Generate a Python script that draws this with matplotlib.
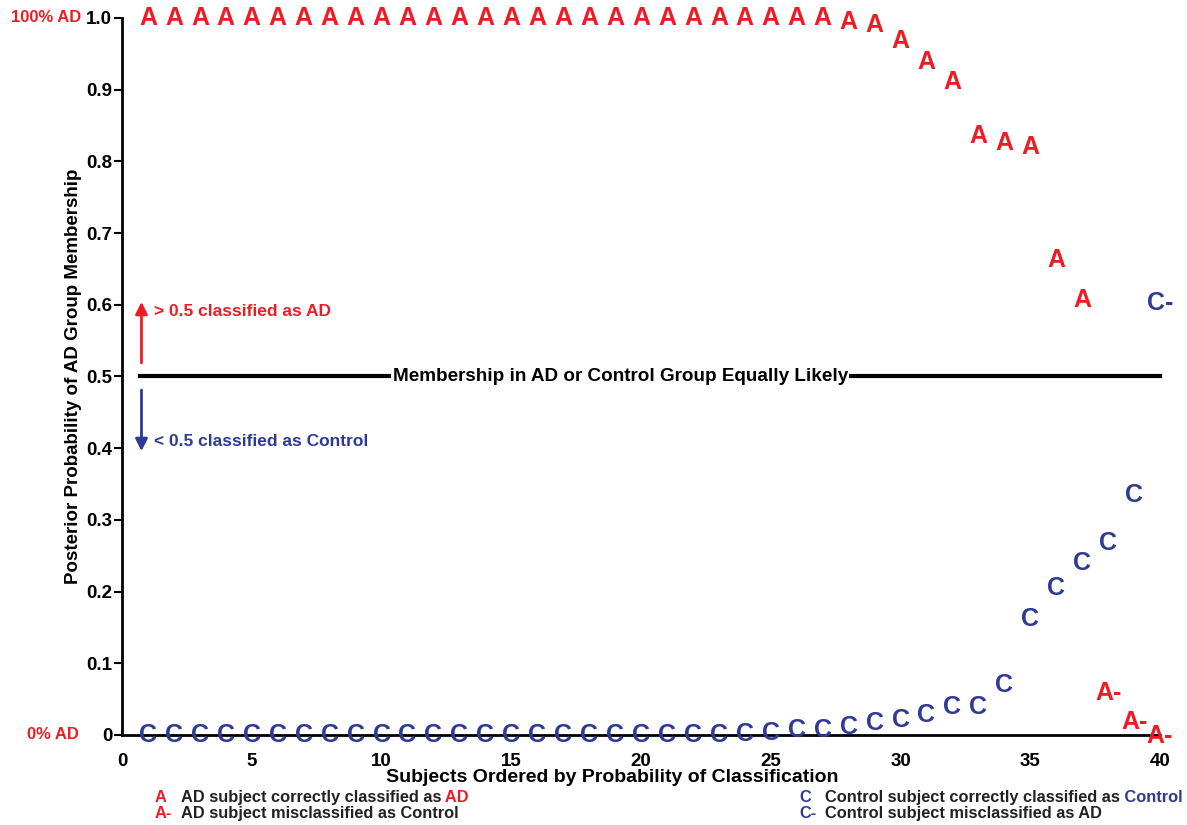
import numpy as np
import matplotlib
matplotlib.use("Agg")
import matplotlib.pyplot as plt

# ------------------- DATA -------------------
subjects = np.arange(1, 41)

# AD group posterior probabilities (ordered)
ad_prob = [1.0] * 27 + [0.995, 0.99, 0.968, 0.939, 0.911, 0.835, 0.826, 0.82,
                        0.662, 0.607, 0.059, 0.018, -0.002]
ad_label = ["A"] * 37 + ["A-"] * 3

# Control group posterior probabilities (ordered)
ctl_prob = [0.0] * 23 + [0.002, 0.003, 0.007, 0.007, 0.011, 0.017, 0.021,
                         0.028, 0.039, 0.039, 0.07, 0.162, 0.205, 0.24, 0.268,
                         0.335, 0.602]
ctl_label = ["C"] * 39 + ["C-"]

x_ticks = [0, 5, 10, 15, 20, 25, 30, 35, 40]
y_ticks = [0, 0.1, 0.2, 0.3, 0.4, 0.5, 0.6, 0.7, 0.8, 0.9, 1.0]
y_tick_labels = ["0", "0.1", "0.2", "0.3", "0.4", "0.5", "0.6", "0.7", "0.8", "0.9", "1.0"]

RED = "#ED1C24"
BLUE = "#2E3A94"

plt.rcParams['font.family'] = ['Liberation Sans', 'DejaVu Sans']
plt.rcParams['font.weight'] = 'bold'

# ------------------- FIGURE -------------------
fig = plt.figure(figsize=(11.87, 8.25), dpi=100)
ax = fig.add_axes([0.1028, 0.1091, 0.8745, 0.8691])
ax.set_xlim(0, 40)
ax.set_ylim(0, 1)

for side in ["top", "right"]:
    ax.spines[side].set_visible(False)
ax.spines["left"].set_linewidth(2)
ax.spines["bottom"].set_linewidth(2)

ax.set_xticks(x_ticks)
ax.set_xticklabels([str(t) for t in x_ticks], fontsize=13.5, fontweight='bold')
ax.set_yticks(y_ticks)
ax.set_yticklabels(y_tick_labels, fontsize=13.5, fontweight='bold')
ax.tick_params(axis='y', length=6, width=1.5, pad=1)
ax.tick_params(axis='x', length=0, pad=13)

ax.set_ylabel("Posterior Probability of AD Group Membership", fontsize=13.5,
              fontweight='bold', labelpad=3)

# ------------------- MEMBERSHIP LINE -------------------
ax.plot([0.7, 40], [0.5, 0.5], color='k', lw=3, clip_on=False, zorder=2)
ax.text(19.2, 0.5, "Membership in AD or Control Group Equally Likely", ha='center',
        va='center', fontsize=13.6, fontweight='bold', zorder=3,
        bbox=dict(facecolor='white', edgecolor='none', pad=1))

# arrows
ax.annotate("", xy=(0.75, 0.608), xytext=(0.75, 0.515),
            arrowprops=dict(arrowstyle='-|>', color=RED, lw=2, mutation_scale=18))
ax.annotate("", xy=(0.75, 0.392), xytext=(0.75, 0.485),
            arrowprops=dict(arrowstyle='-|>', color=BLUE, lw=2, mutation_scale=18))
ax.text(1.25, 0.59, "> 0.5 classified as AD", color=RED, fontsize=12.5,
        fontweight='bold', va='center')
ax.text(1.25, 0.41, "< 0.5 classified as Control", color=BLUE, fontsize=12.5,
        fontweight='bold', va='center')

# ------------------- POINTS (letters) -------------------
for xi, yi, lab in zip(subjects, ctl_prob, ctl_label):
    ax.text(xi, yi, lab, color=BLUE, fontsize=18, fontweight='bold',
            ha='center', va='center', clip_on=False, zorder=4)
for xi, yi, lab in zip(subjects, ad_prob, ad_label):
    ax.text(xi, yi, lab, color=RED, fontsize=18, fontweight='bold',
            ha='center', va='center', clip_on=False, zorder=4)

# side labels
ax.text(-2.93, 1.0, "100% AD", color=RED, fontsize=12, fontweight='bold',
        ha='center', va='center')
ax.text(-2.68, 0.0, "0% AD", color=RED, fontsize=12, fontweight='bold',
        ha='center', va='center')

# x label
ax.text(18.9, -0.059, "Subjects Ordered by Probability of Classification",
        ha='center', va='center', fontsize=14, fontweight='bold')

# ------------------- LEGEND -------------------
def legend_line(x, y, sym, sym_col, text, tail=None, tail_col=None):
    ax.text(x, y, sym, color=sym_col, fontsize=11.75, fontweight='bold',
            va='center', clip_on=False)
    t = ax.text(x + 1.0, y, text, color='#222222', fontsize=11.75, fontweight='bold',
                va='center', clip_on=False)
    if tail:
        ax.annotate(" " + tail, xy=(1, 0.5), xycoords=t, color=tail_col,
                    fontsize=11.75, fontweight='bold', va='center', ha='left')

legend_line(1.27, -0.0865, "A", RED, "AD subject correctly classified as", "AD", RED)
legend_line(1.27, -0.109, "A-", RED, "AD subject misclassified as Control")
legend_line(26.1, -0.0865, "C", BLUE, "Control subject correctly classified as", "Control", BLUE)
legend_line(26.1, -0.109, "C-", BLUE, "Control subject misclassified as AD")

plt.savefig("out.png", dpi=100)
